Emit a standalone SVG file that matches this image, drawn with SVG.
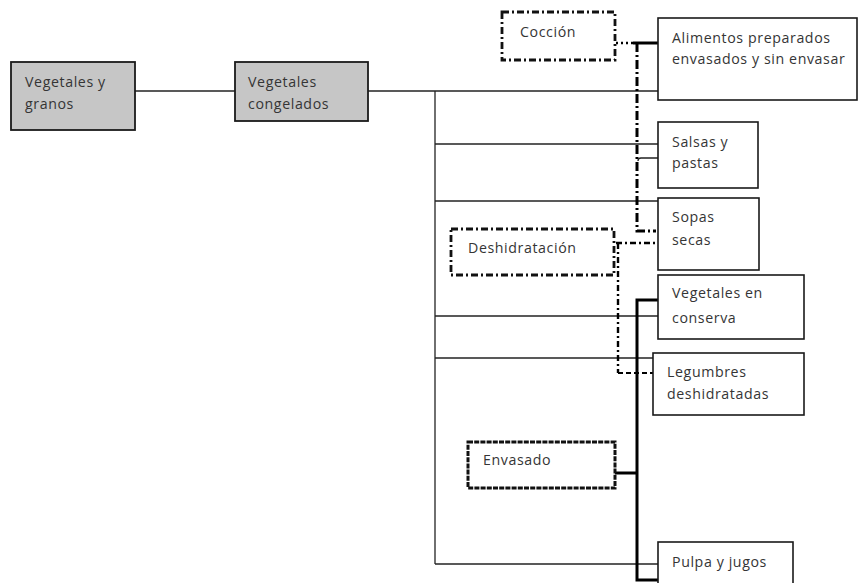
<svg xmlns="http://www.w3.org/2000/svg" width="859" height="583" viewBox="0 0 859 583">
<style>
  text { font-family: "Open Sans", "Liberation Sans", sans-serif; font-size: 14.2px; fill: #353535; letter-spacing: 0.6px; }
  .box { fill: #ffffff; stroke: #1a1a1a; stroke-width: 1.6; }
  .gray { fill: #c6c6c6; stroke: #1a1a1a; stroke-width: 1.8; }
  .dashdot { fill: #ffffff; stroke: #111; stroke-width: 2.8; stroke-dasharray: 7 3 2 3; }
  .dense { fill: #ffffff; stroke: #111; stroke-width: 3; stroke-dasharray: 5 1.2; }
  .thin { fill: none; stroke: #222; stroke-width: 1.3; }
  .thick { fill: none; stroke: #000; stroke-width: 3; }
  .ddthick { fill: none; stroke: #000; stroke-width: 3; stroke-dasharray: 9 3 2 3; }
  .dd { fill: none; stroke: #000; stroke-width: 2.4; stroke-dasharray: 6 3 2 3; }
  .dot { fill: none; stroke: #000; stroke-width: 2.5; stroke-dasharray: 2 3; }
  .dash { fill: none; stroke: #000; stroke-width: 2.2; stroke-dasharray: 5 3; }
</style>
<rect width="859" height="583" fill="#ffffff"/>
<g id="connectors">
  <line class="thin" x1="135" y1="91" x2="235" y2="91"/>
  <line class="thin" x1="368" y1="91" x2="658" y2="91"/>
  <line class="thin" x1="435" y1="91" x2="435" y2="564"/>
  <line class="thin" x1="435" y1="144" x2="658" y2="144"/>
  <line class="thin" x1="435" y1="201" x2="658" y2="201"/>
  <line class="thin" x1="435" y1="316" x2="658" y2="316"/>
  <line class="thin" x1="435" y1="358" x2="653" y2="358"/>
  <line class="thin" x1="435" y1="564" x2="658" y2="564"/>
  <!-- Cocción -->
  <line class="dot" x1="616" y1="43" x2="633" y2="43"/>
  <line class="thick" x1="633" y1="43" x2="658" y2="43"/>
  <polyline class="ddthick" points="637,43 637,231 656,231"/>
  <path class="thin" d="M638,161 Q638,158 641,158 L658,158"/>
  <!-- Deshidratación -->
  <line class="dd" x1="616" y1="243" x2="658" y2="243"/>
  <line class="dd" x1="618" y1="243" x2="618" y2="373"/>
  <line class="dash" x1="618" y1="373" x2="653" y2="373"/>
  <!-- Envasado -->
  <polyline class="thick" points="658,300 637,300 637,580 658,580"/>
  <line class="thick" x1="615" y1="473" x2="637" y2="473"/>
</g>
<g id="n-vegetales-granos">
  <rect class="gray" x="11" y="62" width="124" height="68"/>
  <text x="25" y="87">Vegetales y</text>
  <text x="25" y="109">granos</text>
</g>
<g id="n-vegetales-congelados">
  <rect class="gray" x="235" y="62" width="133" height="59"/>
  <text x="248" y="87">Vegetales</text>
  <text x="248" y="109">congelados</text>
</g>
<g id="n-coccion">
  <rect class="dashdot" x="502" y="12" width="113" height="48"/>
  <text x="520" y="37">Cocción</text>
</g>
<g id="n-alimentos">
  <rect class="box" x="658" y="18" width="199" height="82"/>
  <text x="672" y="43">Alimentos preparados</text>
  <text x="672" y="64">envasados y sin envasar</text>
</g>
<g id="n-salsas">
  <rect class="box" x="658" y="122" width="100" height="66"/>
  <text x="672" y="147">Salsas y</text>
  <text x="672" y="168">pastas</text>
</g>
<g id="n-sopas">
  <rect class="box" x="658" y="198" width="101" height="72"/>
  <text x="672" y="222">Sopas</text>
  <text x="672" y="245">secas</text>
</g>
<g id="n-deshidratacion">
  <rect class="dashdot" x="451" y="229" width="163" height="46"/>
  <text x="468" y="253">Deshidratación</text>
</g>
<g id="n-conserva">
  <rect class="box" x="658" y="275" width="146" height="64"/>
  <text x="672" y="298">Vegetales en</text>
  <text x="672" y="323">conserva</text>
</g>
<g id="n-legumbres">
  <rect class="box" x="653" y="353" width="151" height="62"/>
  <text x="667" y="377">Legumbres</text>
  <text x="667" y="399">deshidratadas</text>
</g>
<g id="n-envasado">
  <rect class="dense" x="468" y="442" width="147" height="46"/>
  <text x="483" y="465">Envasado</text>
</g>
<g id="n-pulpa">
  <rect class="box" x="658" y="542" width="135" height="50"/>
  <text x="672" y="567">Pulpa y jugos</text>
</g>
</svg>
